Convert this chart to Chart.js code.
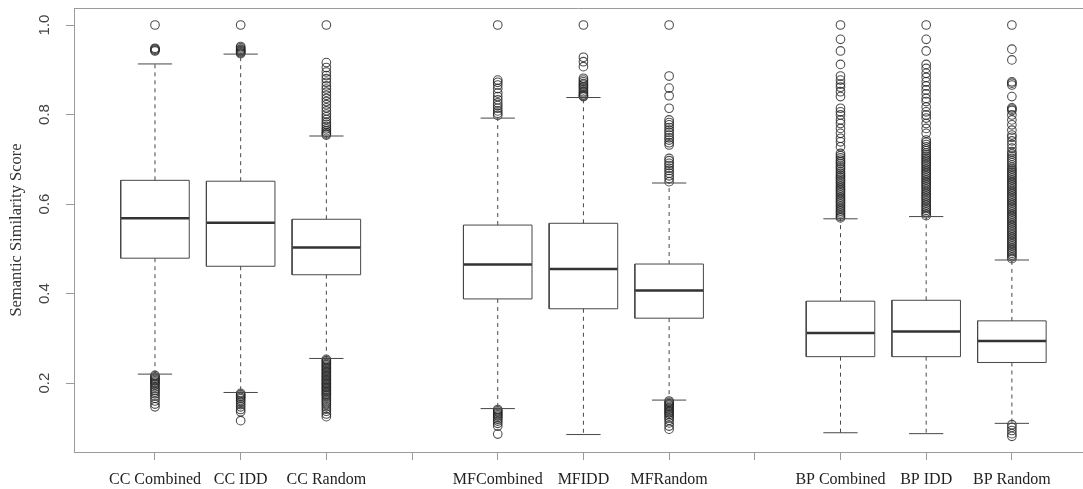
<!DOCTYPE html>
<html>
<head>
<meta charset="utf-8">
<script src="https://cdn.jsdelivr.net/npm/chart.js@4.4.1/dist/chart.umd.min.js"></script>
<style>
  html, body { margin: 0; padding: 0; background: #fff; overflow: hidden; }
  #wrap { width: 1083px; height: 489px; position: relative; }
</style>
</head>
<body>
<div id="wrap"><canvas id="bp" width="1083" height="489"></canvas></div>
<script>
// ---------- data ----------
const boxPositions = [1, 2, 3, 5, 6, 7, 9, 10, 11];
const tickPositions = [1, 2, 3, 4, 5, 6, 7, 8, 9, 10, 11];
const tickLabels = ["CC Combined", "CC IDD", "CC Random", "", "MFCombined", "MFIDD", "MFRandom", "", "BP Combined", "BP IDD", "BP Random"];
const yTickValues = [0.2, 0.4, 0.6, 0.8, 1.0];

const whiskerLow  = [0.220, 0.179, 0.255, 0.143, 0.085, 0.162, 0.089, 0.087, 0.110];
const q1          = [0.479, 0.461, 0.442, 0.388, 0.366, 0.345, 0.259, 0.259, 0.246];
const medians     = [0.568, 0.558, 0.503, 0.465, 0.455, 0.407, 0.312, 0.315, 0.294];
const q3          = [0.653, 0.651, 0.566, 0.553, 0.557, 0.466, 0.383, 0.385, 0.339];
const whiskerHigh = [0.913, 0.935, 0.752, 0.792, 0.838, 0.647, 0.567, 0.572, 0.475];

// outliers per box
const ccCombinedOut = [1.0, 0.948, 0.946, 0.944, 0.942,
  0.217, 0.214, 0.211, 0.208, 0.205, 0.202, 0.199, 0.196, 0.192, 0.188, 0.184, 0.180, 0.176, 0.171, 0.166, 0.160, 0.153, 0.147];
const ccIddOut = [1.0, 0.952, 0.949, 0.946, 0.944, 0.942, 0.940, 0.938, 0.936,
  0.177, 0.174, 0.171, 0.168, 0.165, 0.161, 0.157, 0.152, 0.147, 0.141, 0.136, 0.116];
const ccRandomOut = [1.0, 0.916, 0.905, 0.895, 0.887, 0.880, 0.872, 0.864, 0.857, 0.850, 0.843, 0.836, 0.829, 0.822,
  0.815, 0.808, 0.801, 0.795, 0.789, 0.783, 0.778, 0.773, 0.768, 0.764, 0.760, 0.757, 0.754,
  0.253, 0.250, 0.247, 0.244, 0.241, 0.238, 0.235, 0.232, 0.229, 0.226, 0.223, 0.220, 0.217, 0.214, 0.211,
  0.208, 0.205, 0.202, 0.199, 0.196, 0.193, 0.190, 0.187, 0.184, 0.181, 0.178, 0.175, 0.172, 0.168, 0.164,
  0.160, 0.156, 0.152, 0.147, 0.142, 0.137, 0.131, 0.125];
const mfCombinedOut = [1.0, 0.877, 0.872, 0.866, 0.858, 0.848, 0.840, 0.833, 0.826, 0.820, 0.814, 0.808, 0.803, 0.798,
  0.141, 0.138, 0.135, 0.132, 0.129, 0.126, 0.123, 0.119, 0.115, 0.110, 0.104, 0.086];
const mfIddOut = [1.0, 0.928, 0.918, 0.907, 0.881, 0.877, 0.873, 0.869, 0.866, 0.862, 0.859, 0.855, 0.851, 0.848,
  0.844, 0.842, 0.840];
const mfRandomOut = [1.0, 0.886, 0.859, 0.842, 0.814, 0.788, 0.782, 0.777, 0.771, 0.765, 0.760, 0.754, 0.748, 0.743,
  0.737, 0.732, 0.702, 0.697, 0.691, 0.686, 0.680, 0.675, 0.669, 0.663, 0.657, 0.650,
  0.160, 0.157, 0.154, 0.151, 0.148, 0.145, 0.142, 0.139, 0.136, 0.133, 0.130, 0.126, 0.122, 0.117, 0.111, 0.104, 0.097];
const bpCombinedOut = [1.0, 0.968, 0.942, 0.912, 0.886, 0.877, 0.868, 0.861, 0.851, 0.840, 0.814, 0.806, 0.799,
  0.788, 0.780, 0.769, 0.758, 0.747, 0.739, 0.728, 0.713, 0.708, 0.703, 0.698, 0.694, 0.690, 0.685, 0.681,
  0.677, 0.672, 0.668, 0.664, 0.660, 0.656, 0.652, 0.648, 0.644, 0.640, 0.636, 0.632, 0.628, 0.624, 0.620,
  0.616, 0.612, 0.608, 0.604, 0.600, 0.596, 0.592, 0.588, 0.584, 0.580, 0.576, 0.572, 0.569];
const bpIddOut = [1.0, 0.968, 0.942, 0.912, 0.903, 0.892, 0.883, 0.873, 0.864, 0.855, 0.846, 0.836, 0.829, 0.817,
  0.806, 0.799, 0.792, 0.780, 0.769, 0.758, 0.743, 0.738, 0.733, 0.728, 0.723, 0.719, 0.714, 0.710, 0.706,
  0.702, 0.698, 0.694, 0.690, 0.686, 0.682, 0.678, 0.674, 0.670, 0.666, 0.662, 0.658, 0.654, 0.650, 0.646,
  0.642, 0.638, 0.634, 0.630, 0.626, 0.622, 0.618, 0.614, 0.610, 0.606, 0.602, 0.598, 0.594, 0.590, 0.586,
  0.582, 0.578, 0.574];
const bpRandomOut = [1.0, 0.946, 0.922, 0.873, 0.870, 0.866, 0.840, 0.815, 0.812, 0.809, 0.799, 0.788, 0.777,
  0.765, 0.754, 0.749, 0.741, 0.733, 0.725, 0.717, 0.712, 0.707, 0.702, 0.697, 0.692, 0.687, 0.682, 0.678,
  0.674, 0.670, 0.666, 0.662, 0.658, 0.654, 0.650, 0.646, 0.642, 0.638, 0.634, 0.630, 0.626, 0.622, 0.618,
  0.614, 0.610, 0.606, 0.602, 0.598, 0.594, 0.590, 0.586, 0.582, 0.578, 0.574, 0.570, 0.566, 0.562, 0.558,
  0.554, 0.550, 0.546, 0.542, 0.538, 0.534, 0.530, 0.526, 0.522, 0.518, 0.514, 0.510, 0.506, 0.502, 0.498,
  0.494, 0.490, 0.486, 0.482, 0.478,
  0.107, 0.101, 0.094, 0.087, 0.081];
const outlierSets = [ccCombinedOut, ccIddOut, ccRandomOut, mfCombinedOut, mfIddOut, mfRandomOut, bpCombinedOut, bpIddOut, bpRandomOut];

// ---------- style ----------
const BOX_HALF = 0.40;   // half box width, in x units
const CAP_HALF = 0.20;
const LINE_COL = "#474747";
const AXIS_COL = "#9a9a9a";
const SERIF = "'Liberation Serif', 'DejaVu Serif', serif";
const SANS = "'Liberation Sans', Arial, sans-serif";

// ---------- build line segments from the arrays ----------
const gap = (x) => ({ x: x, y: null });
const boxPts = [], medPts = [], whiskPts = [], capPts = [], outPts = [];
boxPositions.forEach((x, i) => {
  boxPts.push({ x: x - BOX_HALF, y: q1[i] }, { x: x + BOX_HALF, y: q1[i] }, { x: x + BOX_HALF, y: q3[i] },
              { x: x - BOX_HALF, y: q3[i] }, { x: x - BOX_HALF, y: q1[i] }, gap(x));
  medPts.push({ x: x - BOX_HALF, y: medians[i] }, { x: x + BOX_HALF, y: medians[i] }, gap(x));
  whiskPts.push({ x: x, y: q3[i] }, { x: x, y: whiskerHigh[i] }, gap(x),
                { x: x, y: q1[i] }, { x: x, y: whiskerLow[i] }, gap(x));
  capPts.push({ x: x - CAP_HALF, y: whiskerHigh[i] }, { x: x + CAP_HALF, y: whiskerHigh[i] }, gap(x),
              { x: x - CAP_HALF, y: whiskerLow[i] }, { x: x + CAP_HALF, y: whiskerLow[i] }, gap(x));
  outlierSets[i].forEach(v => outPts.push({ x: x, y: v }));
});

const lineDs = (data, extra) => Object.assign({
  type: "line", data, xAxisID: "x", yAxisID: "y", borderColor: LINE_COL, borderWidth: 1, pointRadius: 0,
  spanGaps: false, fill: false, tension: 0
}, extra);

// draws the top frame line plus the rotated y tick labels and y title
const framePlugin = {
  id: "frame",
  afterDraw(chart) {
    const { ctx, chartArea } = chart;
    const ys = chart.scales.y;
    ctx.save();
    ctx.strokeStyle = AXIS_COL;
    ctx.lineWidth = 1;
    ctx.beginPath();
    ctx.moveTo(chartArea.left, chartArea.top + 0.5);
    ctx.lineTo(chart.width, chartArea.top + 0.5);
    ctx.stroke();

    ctx.fillStyle = "#444";
    ctx.font = "15px " + SANS;
    ctx.textAlign = "center";
    ctx.textBaseline = "middle";
    yTickValues.forEach(v => {
      const py = ys.getPixelForValue(v);
      ctx.save();
      ctx.translate(45, py);
      ctx.rotate(-Math.PI / 2);
      ctx.fillText(v.toFixed(1), 0, 0);
      ctx.restore();
    });

    ctx.fillStyle = "#333";
    ctx.font = "16.5px " + SERIF;
    ctx.translate(17, (chartArea.top + chartArea.bottom) / 2);
    ctx.rotate(-Math.PI / 2);
    ctx.fillText("Semantic Similarity Score", 0, 0);
    ctx.restore();
  }
};

new Chart(document.getElementById("bp"), {
  type: "scatter",
  data: {
    datasets: [
      lineDs(whiskPts, { borderDash: [4, 4] }),
      lineDs(capPts, {}),
      lineDs(boxPts, {}),
      lineDs(medPts, { borderWidth: 2.5, borderColor: "#333" }),
      {
        type: "scatter", data: outPts, xAxisID: "x", yAxisID: "y", pointStyle: "circle", pointRadius: 4.3,
        pointBorderWidth: 1.1, pointBorderColor: "rgba(35,35,35,0.8)", pointBackgroundColor: "rgba(0,0,0,0)"
      }
    ]
  },
  options: {
    responsive: false,
    animation: false,
    events: [],
    layout: { autoPadding: false, padding: { top: 8, left: 0, right: 0, bottom: 0 } },
    plugins: { legend: { display: false }, tooltip: { enabled: false } },
    scales: {
      x: {
        type: "linear", position: "bottom", min: 0.055, max: 11.83,
        afterBuildTicks: (s) => { s.ticks = tickPositions.map(v => ({ value: v })); },
        afterFit: (s) => { s.height = 37; },
        ticks: {
          autoSkip: false, maxRotation: 0, minRotation: 0, padding: 10,
          color: "#222", font: { family: SERIF, size: 16 },
          callback: (v) => tickLabels[tickPositions.indexOf(v)]
        },
        grid: { drawOnChartArea: false, drawTicks: true, tickLength: 8, color: AXIS_COL },
        border: { display: true, color: AXIS_COL }
      },
      y: {
        type: "linear", position: "left", min: 0.046, max: 1.038,
        afterBuildTicks: (s) => { s.ticks = yTickValues.map(v => ({ value: v })); },
        afterFit: (s) => { s.width = 74; },
        ticks: { display: false },
        grid: { drawOnChartArea: false, drawTicks: true, tickLength: 8, color: AXIS_COL },
        border: { display: true, color: AXIS_COL }
      }
    }
  },
  plugins: [framePlugin]
});
</script>
</body>
</html>
